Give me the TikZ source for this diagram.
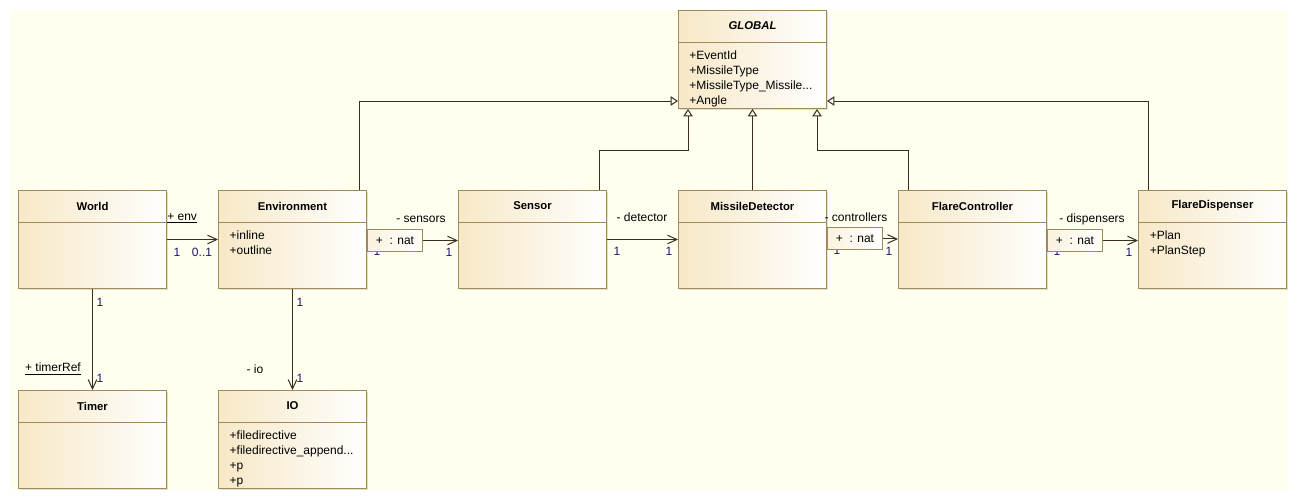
\documentclass[tikz,border=0pt]{standalone}
\usepackage{fontspec}
\setmainfont{Liberation Sans}
\usetikzlibrary{arrows.meta,shadows}

\definecolor{canvas}{RGB}{255,255,240}
\definecolor{boxline}{RGB}{160,138,90}
\definecolor{boxtan}{RGB}{247,232,198}
\definecolor{wire}{RGB}{58,46,30}
\definecolor{multcol}{RGB}{30,20,100}

\tikzset{
	classbox/.style={draw=boxline, line width=0.75pt, left color=boxtan, right color=white, minimum width=111pt, minimum height=73.5pt, inner sep=0pt, anchor=north west, drop shadow={shadow xshift=0.9pt, shadow yshift=-0.9pt, opacity=0.25}},
	classname/.style={font=\fontsize{8.5}{10}\selectfont\bfseries, inner sep=0pt},
	attrs/.style={font=\fontsize{9}{11.25}\selectfont, align=left, anchor=north west, inner sep=0pt},
	divider/.style={draw=boxline, line width=0.75pt},
	assoc/.style={draw=wire, line width=0.75pt, -{Straight Barb[length=7pt,width=6.5pt]}},
	gen/.style={draw=wire, line width=0.75pt, -{Triangle[open,length=5.5pt,width=7pt,fill=canvas]}},
	role/.style={font=\fontsize{9}{10}\selectfont, inner sep=0pt},
	mult/.style={role, text=multcol},
	qualbox/.style={draw=boxline, line width=0.75pt, left color=boxtan!55, right color=white, minimum width=41.25pt, minimum height=16.5pt, inner sep=0pt, anchor=west, font=\fontsize{9}{10}\selectfont},
}

\begin{document}
\begin{tikzpicture}[x=0.75pt,y=0.75pt,yscale=-1,xscale=1]
	\useasboundingbox (0,0) rectangle (1298,500);
	% Canvas
	\fill[canvas] (10,10) rectangle (1288,490);
	
	% Class GLOBAL
	\node[classbox] (global) at (678,10) {};
	\node[classname, font=\fontsize{8.5}{10}\selectfont\bfseries\itshape] (globalname) at ([yshift=12pt]global.north) {GLOBAL};
	\draw[divider] ([yshift=24pt]global.north west) -- ([yshift=24pt]global.north east);
	\node[attrs] (globalattr) at ([xshift=8.3pt,yshift=30.2pt]global.north west) {+EventId\\+MissileType\\+MissileType\_Missile...\\+Angle};
	
	% Class World
	\node[classbox] (world) at (18,190) {};
	\node[classname] (worldname) at ([yshift=12pt]world.north) {World};
	\draw[divider] ([yshift=24pt]world.north west) -- ([yshift=24pt]world.north east);
	
	% Class Environment
	\node[classbox] (env) at (218,190) {};
	\node[classname] (envname) at ([yshift=12pt]env.north) {Environment};
	\draw[divider] ([yshift=24pt]env.north west) -- ([yshift=24pt]env.north east);
	\node[attrs] (envattr) at ([xshift=8.6pt,yshift=30.2pt]env.north west) {+inline\\+outline};
	
	% Class Sensor
	\node[classbox] (sensor) at (458,190) {};
	\node[classname] (sensorname) at ([yshift=12pt]sensor.north) {Sensor};
	\draw[divider] ([yshift=24pt]sensor.north west) -- ([yshift=24pt]sensor.north east);
	
	% Class MissileDetector
	\node[classbox] (md) at (678,190) {};
	\node[classname] (mdname) at ([yshift=12pt]md.north) {MissileDetector};
	\draw[divider] ([yshift=24pt]md.north west) -- ([yshift=24pt]md.north east);
	
	% Class FlareController
	\node[classbox] (fc) at (898,190) {};
	\node[classname] (fcname) at ([yshift=12pt]fc.north) {FlareController};
	\draw[divider] ([yshift=24pt]fc.north west) -- ([yshift=24pt]fc.north east);
	
	% Class FlareDispenser
	\node[classbox] (fd) at (1138,190) {};
	\node[classname] (fdname) at ([yshift=12pt]fd.north) {FlareDispenser};
	\draw[divider] ([yshift=24pt]fd.north west) -- ([yshift=24pt]fd.north east);
	\node[attrs] (fdattr) at ([xshift=8.6pt,yshift=30.2pt]fd.north west) {+Plan\\+PlanStep};
	
	% Class Timer
	\node[classbox] (timer) at (18,390) {};
	\node[classname] (timername) at ([yshift=12pt]timer.north) {Timer};
	\draw[divider] ([yshift=24pt]timer.north west) -- ([yshift=24pt]timer.north east);
	
	% Class IO
	\node[classbox] (io) at (218,390) {};
	\node[classname] (ioname) at ([yshift=12pt]io.north) {IO};
	\draw[divider] ([yshift=24pt]io.north west) -- ([yshift=24pt]io.north east);
	\node[attrs] (ioattr) at ([xshift=8.6pt,yshift=30.7pt]io.north west) {+filedirective\\+filedirective\_append...\\+p\\+p};
	
	% Generalizations
	\draw[gen] ([xshift=-6pt]env.north east) |- ([yshift=-6pt]global.south west);
	\draw[gen] ([xshift=-6pt]sensor.north east) -- ++(0,-40) -| ([xshift=7.5pt]global.south west);
	\draw[gen] (md.north) -- (global.south);
	\draw[gen] ([xshift=7.5pt]fc.north west) -- ++(0,-40) -| ([xshift=-7.5pt]global.south east);
	\draw[gen] ([xshift=7.5pt]fd.north west) |- ([yshift=-6pt]global.south east);
	
	% Association World - Environment
	\draw[assoc] (world.east) -- (env.west);
	\node[role, anchor=west] (envrole) at (167,218) {\underline{+ env}};
	\node[mult] (worldm1) at (177,252) {1};
	\node[mult] (envm1) at (202,252) {0..1};
	
	% Association Environment - Sensor
	\node[mult] (envm2) at (377,251) {1};
	\node[qualbox] (qenv) at ([yshift=0.75pt]env.east) {+ \ : nat};
	\draw[assoc] (qenv.east) -- (qenv.east -| sensor.west);
	\node[role] (sensorsrole) at (421,219) {- sensors};
	\node[mult] (sensorm1) at (449,252) {1};
	
	% Association Sensor - MissileDetector
	\draw[assoc] (sensor.east) -- (md.west);
	\node[role] (detectorrole) at (642,217) {- detector};
	\node[mult] (sensorm2) at (617,251) {1};
	\node[mult] (mdm1) at (669,251) {1};
	
	% Association MissileDetector - FlareController
	\node[mult] (mdm2) at (837,250) {1};
	\node[qualbox] (qmd) at ([yshift=-0.4pt]md.east) {+ \ : nat};
	\draw[assoc] (qmd.east) -- (qmd.east -| fc.west);
	\node[role] (controllersrole) at (856,217) {- controllers};
	\node[mult] (fcm1) at (889,251) {1};
	
	% Association FlareController - FlareDispenser
	\node[mult] (fcm2) at (1057,251) {1};
	\node[qualbox] (qfc) at ([yshift=0.75pt]fc.east) {+ \ : nat};
	\draw[assoc] (qfc.east) -- (qfc.east -| fd.west);
	\node[role] (dispensersrole) at (1092,219) {- dispensers};
	\node[mult] (fdm1) at (1129,252) {1};
	
	% Association World - Timer
	\draw[assoc] (world.south) -- (timer.north);
	\node[mult] (worldm2) at (100,302) {1};
	\node[mult] (timerm1) at (100,378) {1};
	\node[role] (timerrole) at (53,369) {\underline{+ timerRef}};
	
	% Association Environment - IO
	\draw[assoc] (env.south) -- (io.north);
	\node[mult] (envm3) at (300,302) {1};
	\node[mult] (iom1) at (300,378) {1};
	\node[role] (iorole) at (255,369) {- io};
	
\end{tikzpicture}
\end{document}
